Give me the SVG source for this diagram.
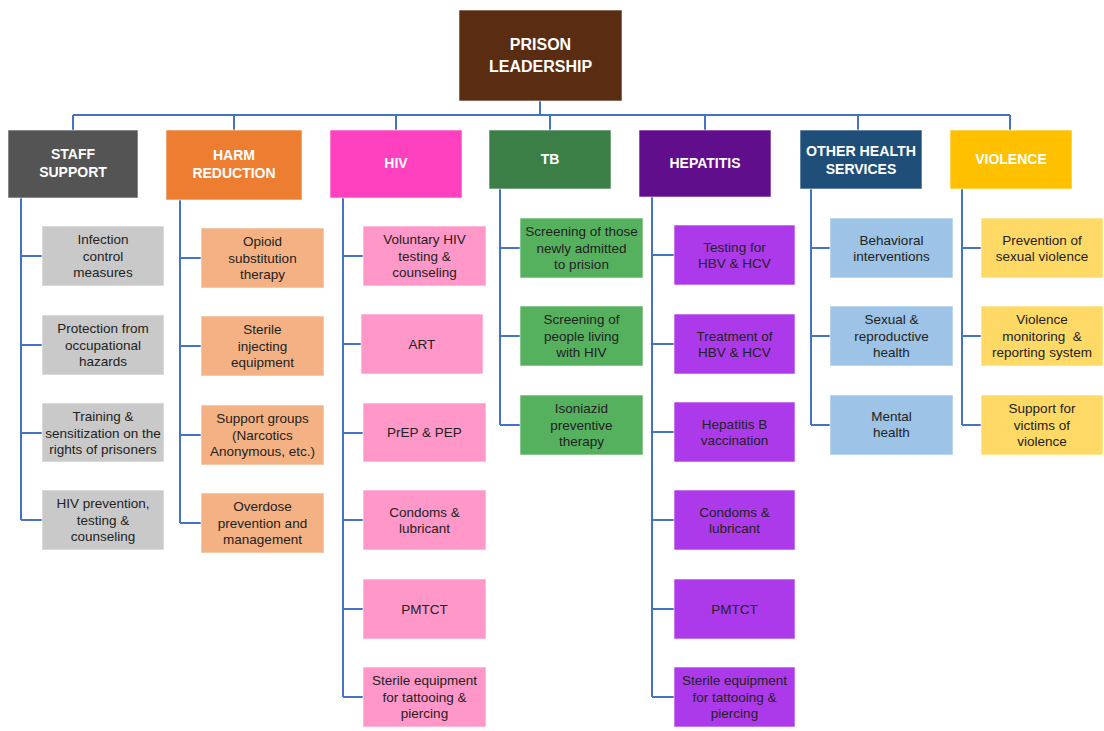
<svg xmlns="http://www.w3.org/2000/svg" width="1104" height="731" viewBox="0 0 1104 731">
<style>
text{font-family:"Liberation Sans",Arial,sans-serif;text-anchor:middle}
.h{fill:#fff;font-weight:bold;font-size:14px}
.t{fill:#fff;font-weight:bold;font-size:16px}
.c{fill:#222;font-size:13.5px}
.ln{stroke:#4472C4;stroke-width:2;fill:none}
.b{stroke:#fff;stroke-opacity:0.6;stroke-width:1}
</style>
<rect width="1104" height="731" fill="#fff"/>
<g id="connectors" class="ln">
<path d="M540 101V115M73 115H1010M73 115V130M234 115V130M396 115V130M550 115V130M705 115V130M858 115V130M1010 115V130"/>
<path d="M21 198V520M21 256H42M21 345H42M21 433H42M21 520H42"/>
<path d="M180 200V523M180 258H201M180 346H201M180 435H201M180 523H201"/>
<path d="M343 198V697M343 256H363M343 344H361M343 433H363M343 520H363M343 609H363M343 697H363"/>
<path d="M500 189V425M500 248H520M500 336H520M500 425H520"/>
<path d="M652 197V697M652 255H674M652 344H674M652 432H674M652 520H674M652 609H674M652 697H674"/>
<path d="M811 189V425M811 248H830M811 336H830M811 425H830"/>
<path d="M962 189V425M962 248H981M962 336H981M962 425H981"/>
</g>
<g id="prison-leadership"><rect class="b" x="459" y="10" width="163" height="91" fill="#5A2D13"/><text class="t" x="540.5" y="50">PRISON</text><text class="t" x="540.5" y="72">LEADERSHIP</text></g>
<g id="staff-support"><rect class="b" x="8" y="130" width="130" height="68" fill="#545454"/><text class="h" x="73" y="159">STAFF</text><text class="h" x="73" y="177">SUPPORT</text></g>
<g id="harm-reduction"><rect class="b" x="166" y="130" width="136" height="70" fill="#ED7D31"/><text class="h" x="234" y="160">HARM</text><text class="h" x="234" y="178">REDUCTION</text></g>
<g id="hiv"><rect class="b" x="330" y="130" width="132" height="68" fill="#FF40BF"/><text class="h" x="396" y="168">HIV</text></g>
<g id="tb"><rect class="b" x="489" y="130" width="122" height="59" fill="#3B7F46"/><text class="h" x="550" y="164">TB</text></g>
<g id="hepatitis"><rect class="b" x="639" y="130" width="132" height="67" fill="#600E8C"/><text class="h" x="705" y="168">HEPATITIS</text></g>
<g id="other-health"><rect class="b" x="800" y="130" width="122" height="59" fill="#1F4E79"/><text class="h" x="861" y="156" textLength="110" lengthAdjust="spacingAndGlyphs">OTHER HEALTH</text><text class="h" x="861" y="174">SERVICES</text></g>
<g id="violence"><rect class="b" x="950" y="130" width="122" height="59" fill="#FFC000"/><text class="h" x="1011" y="164">VIOLENCE</text></g>

<g id="s1"><rect class="b" x="42" y="226" width="122" height="60" fill="#C9C9C9"/><text class="c" x="103" y="244">Infection</text><text class="c" x="103" y="261">control</text><text class="c" x="103" y="277">measures</text></g>
<g id="s2"><rect class="b" x="42" y="315" width="122" height="60" fill="#C9C9C9"/><text class="c" x="103" y="333">Protection from</text><text class="c" x="103" y="350">occupational</text><text class="c" x="103" y="366">hazards</text></g>
<g id="s3"><rect class="b" x="42" y="403" width="122" height="59" fill="#C9C9C9"/><text class="c" x="103" y="421">Training &amp;</text><text class="c" x="103" y="438">sensitization on the</text><text class="c" x="103" y="454">rights of prisoners</text></g>
<g id="s4"><rect class="b" x="42" y="490" width="122" height="60" fill="#C9C9C9"/><text class="c" x="103" y="508">HIV prevention,</text><text class="c" x="103" y="525">testing &amp;</text><text class="c" x="103" y="541">counseling</text></g>

<g id="h1"><rect class="b" x="201" y="228" width="123" height="60" fill="#F4B183"/><text class="c" x="262.5" y="246">Opioid</text><text class="c" x="262.5" y="263">substitution</text><text class="c" x="262.5" y="279">therapy</text></g>
<g id="h2"><rect class="b" x="201" y="316" width="123" height="60" fill="#F4B183"/><text class="c" x="262.5" y="334">Sterile</text><text class="c" x="262.5" y="351">injecting</text><text class="c" x="262.5" y="367">equipment</text></g>
<g id="h3"><rect class="b" x="201" y="405" width="123" height="60" fill="#F4B183"/><text class="c" x="262.5" y="423">Support groups</text><text class="c" x="262.5" y="440">(Narcotics</text><text class="c" x="262.5" y="456">Anonymous, etc.)</text></g>
<g id="h4"><rect class="b" x="201" y="493" width="123" height="60" fill="#F4B183"/><text class="c" x="262.5" y="511">Overdose</text><text class="c" x="262.5" y="528">prevention and</text><text class="c" x="262.5" y="544">management</text></g>

<g id="v1"><rect class="b" x="363" y="226" width="123" height="60" fill="#FF97C9"/><text class="c" x="424.5" y="244">Voluntary HIV</text><text class="c" x="424.5" y="261">testing &amp;</text><text class="c" x="424.5" y="277">counseling</text></g>
<g id="v2"><rect class="b" x="361" y="314" width="122" height="60" fill="#FF97C9"/><text class="c" x="422" y="349">ART</text></g>
<g id="v3"><rect class="b" x="363" y="403" width="123" height="59" fill="#FF97C9"/><text class="c" x="424.5" y="437">PrEP &amp; PEP</text></g>
<g id="v4"><rect class="b" x="363" y="490" width="123" height="60" fill="#FF97C9"/><text class="c" x="424.5" y="517">Condoms &amp;</text><text class="c" x="424.5" y="533">lubricant</text></g>
<g id="v5"><rect class="b" x="363" y="579" width="123" height="60" fill="#FF97C9"/><text class="c" x="424.5" y="614">PMTCT</text></g>
<g id="v6"><rect class="b" x="363" y="667" width="123" height="60" fill="#FF97C9"/><text class="c" x="424.5" y="685">Sterile equipment</text><text class="c" x="424.5" y="702">for tattooing &amp;</text><text class="c" x="424.5" y="718">piercing</text></g>

<g id="t1"><rect class="b" x="520" y="218" width="123" height="60" fill="#56B15F"/><text class="c" x="581.5" y="236">Screening of those</text><text class="c" x="581.5" y="253">newly admitted</text><text class="c" x="581.5" y="269">to prision</text></g>
<g id="t2"><rect class="b" x="520" y="306" width="123" height="60" fill="#56B15F"/><text class="c" x="581.5" y="324">Screening of</text><text class="c" x="581.5" y="341">people living</text><text class="c" x="581.5" y="357">with HIV</text></g>
<g id="t3"><rect class="b" x="520" y="395" width="123" height="60" fill="#56B15F"/><text class="c" x="581.5" y="413">Isoniazid</text><text class="c" x="581.5" y="430">preventive</text><text class="c" x="581.5" y="446">therapy</text></g>

<g id="p1"><rect class="b" x="674" y="225" width="121" height="60" fill="#AD3AEA"/><text class="c" x="734.5" y="252">Testing for</text><text class="c" x="734.5" y="268">HBV &amp; HCV</text></g>
<g id="p2"><rect class="b" x="674" y="314" width="121" height="60" fill="#AD3AEA"/><text class="c" x="734.5" y="341">Treatment of</text><text class="c" x="734.5" y="357">HBV &amp; HCV</text></g>
<g id="p3"><rect class="b" x="674" y="402" width="121" height="60" fill="#AD3AEA"/><text class="c" x="734.5" y="429">Hepatitis B</text><text class="c" x="734.5" y="445">vaccination</text></g>
<g id="p4"><rect class="b" x="674" y="490" width="121" height="60" fill="#AD3AEA"/><text class="c" x="734.5" y="517">Condoms &amp;</text><text class="c" x="734.5" y="533">lubricant</text></g>
<g id="p5"><rect class="b" x="674" y="579" width="121" height="60" fill="#AD3AEA"/><text class="c" x="734.5" y="614">PMTCT</text></g>
<g id="p6"><rect class="b" x="674" y="667" width="121" height="60" fill="#AD3AEA"/><text class="c" x="734.5" y="685">Sterile equipment</text><text class="c" x="734.5" y="702">for tattooing &amp;</text><text class="c" x="734.5" y="718">piercing</text></g>

<g id="o1"><rect class="b" x="830" y="218" width="123" height="60" fill="#9DC3E6"/><text class="c" x="891.5" y="245">Behavioral</text><text class="c" x="891.5" y="261">interventions</text></g>
<g id="o2"><rect class="b" x="830" y="306" width="123" height="60" fill="#9DC3E6"/><text class="c" x="891.5" y="324">Sexual &amp;</text><text class="c" x="891.5" y="341">reproductive</text><text class="c" x="891.5" y="357">health</text></g>
<g id="o3"><rect class="b" x="830" y="395" width="123" height="60" fill="#9DC3E6"/><text class="c" x="891.5" y="421">Mental</text><text class="c" x="891.5" y="437">health</text></g>

<g id="w1"><rect class="b" x="981" y="218" width="122" height="60" fill="#FFD966"/><text class="c" x="1042" y="245">Prevention of</text><text class="c" x="1042" y="261">sexual violence</text></g>
<g id="w2"><rect class="b" x="981" y="306" width="122" height="60" fill="#FFD966"/><text class="c" x="1042" y="324">Violence</text><text class="c" x="1042" y="341" xml:space="preserve">monitoring  &amp;</text><text class="c" x="1042" y="357">reporting system</text></g>
<g id="w3"><rect class="b" x="981" y="395" width="122" height="60" fill="#FFD966"/><text class="c" x="1042" y="413">Support for</text><text class="c" x="1042" y="430">victims of</text><text class="c" x="1042" y="446">violence</text></g>
</svg>
